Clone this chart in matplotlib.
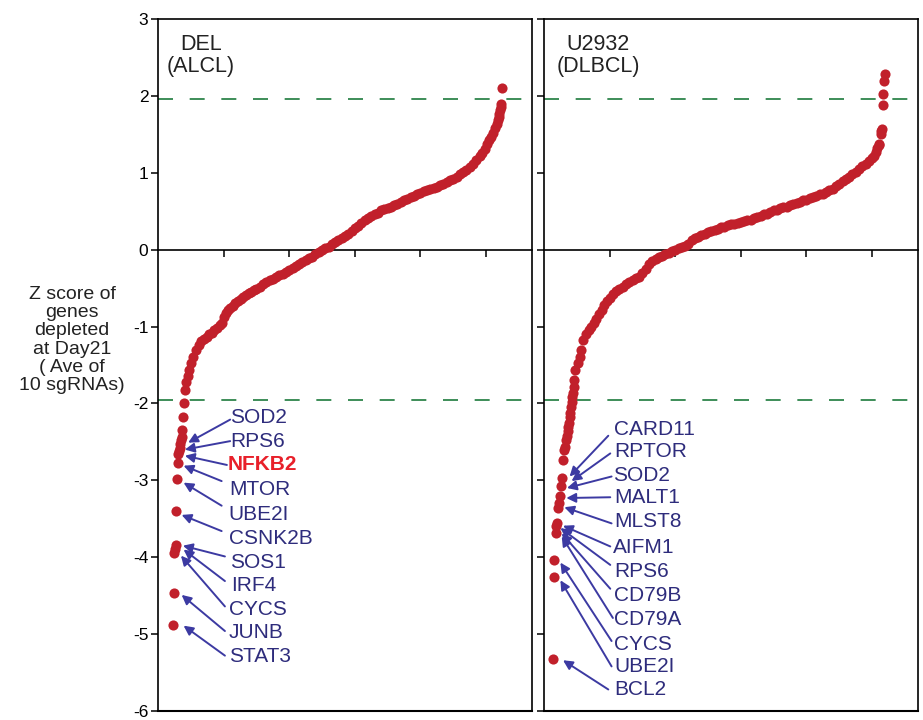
import matplotlib
matplotlib.use("Agg")
import matplotlib.pyplot as plt

plt.rcParams['font.family'] = ['Liberation Sans', 'DejaVu Sans']
plt.rcParams['axes.unicode_minus'] = False

### Data ###

# DEL (ALCL): gene rank vs Z score (sorted)
del_rank = [23, 24, 25, 26, 27, 28, 29, 30, 31, 32, 33, 34, 35, 36, 37, 38, 39,
            41, 43, 45, 47, 50, 54, 58, 62, 66, 70, 74, 78, 82, 86, 90, 94, 97,
            100, 103, 106, 110, 114, 118, 122, 126, 130, 134, 138, 142, 146, 150,
            155, 160, 165, 170, 175, 180, 185, 190, 195, 200, 205, 210, 215, 220,
            225, 230, 235, 240, 245, 250, 255, 260, 265, 270, 275, 280, 285, 290,
            295, 300, 305, 310, 315, 320, 325, 330, 335, 340, 345, 350, 355, 360,
            365, 370, 375, 380, 385, 390, 395, 400, 405, 410, 415, 420, 425, 430,
            435, 440, 445, 450, 455, 460, 465, 470, 475, 480, 485, 490, 494, 498,
            502, 505, 508, 511, 514, 516, 518, 519, 520, 521, 522, 523, 525]
del_z = [-4.88, -4.47, -3.95, -3.89, -3.84, -3.40, -2.98, -2.78, -2.66, -2.62,
         -2.58, -2.53, -2.48, -2.44, -2.34, -2.17, -2.00,
         -1.82, -1.72, -1.64, -1.57, -1.48, -1.39, -1.31, -1.24, -1.19, -1.16,
         -1.13, -1.10, -1.08, -1.05, -1.02, -0.98, -0.95,
         -0.88, -0.82, -0.79, -0.76, -0.73, -0.70, -0.67, -0.64, -0.62, -0.59,
         -0.57, -0.55, -0.53, -0.51,
         -0.48, -0.45, -0.42, -0.40, -0.38, -0.36, -0.33, -0.31, -0.29, -0.26,
         -0.24, -0.21, -0.19, -0.16,
         -0.14, -0.11, -0.09, -0.06, -0.03, -0.01, 0.02, 0.04, 0.07, 0.10, 0.12,
         0.15, 0.18, 0.21,
         0.24, 0.28, 0.31, 0.35, 0.38, 0.41, 0.44, 0.46, 0.48, 0.51, 0.53, 0.54,
         0.56, 0.58,
         0.60, 0.62, 0.64, 0.66, 0.68, 0.70, 0.72, 0.74, 0.76, 0.78, 0.79, 0.80,
         0.82, 0.84,
         0.86, 0.88, 0.90, 0.92, 0.95, 0.98, 1.01, 1.04, 1.08, 1.12, 1.17, 1.22,
         1.26, 1.31,
         1.37, 1.42, 1.47, 1.52, 1.58, 1.63, 1.68, 1.72, 1.76, 1.81, 1.86, 1.90, 2.10]

# U2932 (DLBCL)
u_rank = [14, 15, 16, 18, 19, 20, 22, 23, 24, 26, 28, 29, 31, 32, 34, 35, 36, 37,
          38, 39, 40, 41, 42, 43, 44, 45, 46, 48, 52, 55, 57, 60, 64, 68, 72, 76,
          80, 84, 88, 92, 96, 100, 105, 110, 115, 120, 125, 130, 135, 140, 145,
          150, 155, 160, 165, 170, 175, 180, 185, 190, 195, 200, 205, 210, 215,
          220, 225, 230, 235, 240, 245, 250, 255, 260, 265, 270, 275, 280, 285,
          290, 295, 300, 305, 310, 315, 320, 325, 330, 335, 340, 345, 350, 355,
          360, 365, 370, 375, 380, 385, 390, 395, 400, 405, 410, 415, 420, 425,
          430, 435, 440, 445, 450, 455, 460, 465, 470, 475, 480, 485, 490, 495,
          500, 503, 506, 508, 510, 511, 513, 514, 515, 516, 517, 518, 519]
u_z = [-5.33, -4.26, -4.04, -3.68, -3.60, -3.55, -3.36, -3.30, -3.21, -3.08,
       -2.97, -2.73, -2.60, -2.56, -2.47, -2.42, -2.36, -2.30, -2.25, -2.17,
       -2.12, -2.04, -1.98, -1.91, -1.86, -1.78, -1.70, -1.56, -1.48, -1.39,
       -1.30, -1.18, -1.10, -1.05, -1.01, -0.96,
       -0.90, -0.84, -0.78, -0.72, -0.67, -0.63, -0.58, -0.54, -0.51, -0.48,
       -0.45, -0.42, -0.40, -0.37, -0.35,
       -0.30, -0.25, -0.19, -0.15, -0.12, -0.10, -0.08, -0.06, -0.04, -0.02,
       0.00, 0.02, 0.03, 0.05,
       0.08, 0.12, 0.15, 0.17, 0.19, 0.21, 0.23, 0.24, 0.26, 0.27, 0.29, 0.30,
       0.32, 0.33,
       0.34, 0.35, 0.36, 0.37, 0.38, 0.39, 0.41, 0.42, 0.44, 0.46, 0.47, 0.49,
       0.51, 0.52,
       0.54, 0.55, 0.56, 0.58, 0.59, 0.61, 0.62, 0.64, 0.65, 0.67, 0.69, 0.70,
       0.72, 0.73,
       0.75, 0.77, 0.79, 0.83, 0.86, 0.89, 0.92, 0.95, 0.98, 1.01, 1.05, 1.09,
       1.12, 1.15,
       1.19, 1.22, 1.27, 1.32, 1.36, 1.38, 1.50, 1.54, 1.57, 1.88, 2.03, 2.20, 2.28]

# labelled genes: name, arrow tip (rank, z), arrow tail (rank, z), label position
del_genes = ["SOD2", "RPS6", "NFKB2", "MTOR", "UBE2I", "CSNK2B", "SOS1", "IRF4",
             "CYCS", "JUNB", "STAT3"]
del_tip_rank = [46, 41, 41, 39, 39, 36, 38, 39, 35, 36, 39]
del_tip_z = [-2.51, -2.60, -2.68, -2.81, -3.03, -3.45, -3.85, -3.90, -3.98, -4.49, -4.89]
del_tail_rank = [110, 110, 105, 97, 97, 97, 102, 102, 102, 102, 102]
del_tail_z = [-2.21, -2.49, -2.80, -3.01, -3.33, -3.66, -3.99, -4.31, -4.64, -4.96, -5.28]
del_text_rank = [110, 110, 106, 108, 108, 108, 110, 112, 108, 108, 108]
del_text_z = [-2.18, -2.50, -2.80, -3.12, -3.45, -3.75, -4.07, -4.37, -4.68, -4.98, -5.29]

u_genes = ["CARD11", "RPTOR", "SOD2", "MALT1", "MLST8", "AIFM1", "RPS6", "CD79B",
           "CD79A", "CYCS", "UBE2I", "BCL2"]
u_tip_rank = [39, 42, 35, 34, 31, 29, 25, 27, 27, 25, 25, 29]
u_tip_z = [-2.95, -3.01, -3.10, -3.23, -3.35, -3.59, -3.62, -3.69, -3.73, -4.07, -4.30, -5.34]
u_tail_rank = [98, 101, 103, 101, 103, 101, 101, 101, 105, 103, 103, 98]
u_tail_z = [-2.42, -2.65, -2.95, -3.22, -3.56, -3.86, -4.10, -4.41, -4.79, -5.09, -5.42, -5.72]
u_text_rank = [107, 107, 105, 107, 107, 105, 107, 107, 107, 107, 107, 107]
u_text_z = [-2.34, -2.63, -2.94, -3.22, -3.54, -3.88, -4.19, -4.50, -4.81, -5.14, -5.42, -5.72]

y_ticks = [3, 2, 1, 0, -1, -2, -3, -4, -5, -6]
x_ticks = [100, 200, 300, 400, 500]
cutoff = 1.96

DOT = '#c1202b'
GREEN = '#1c7a3c'
NAVY = '#2e2c7c'
ARROW = '#3c3aa2'

fig = plt.figure(figsize=(9.23, 7.2), dpi=100)
ax1 = fig.add_axes([158 / 923, 9 / 720, 374 / 923, 692 / 720])
ax2 = fig.add_axes([544 / 923, 9 / 720, 374 / 923, 692 / 720])

panels = [
    (ax1, del_rank, del_z, "DEL\n(ALCL)", 0.115,
     del_genes, del_tip_rank, del_tip_z, del_tail_rank, del_tail_z, del_text_rank, del_text_z),
    (ax2, u_rank, u_z, "U2932\n(DLBCL)", 0.145,
     u_genes, u_tip_rank, u_tip_z, u_tail_rank, u_tail_z, u_text_rank, u_text_z),
]

for (ax, rank, z, title, tx, genes, tip_r, tip_z, tail_r, tail_z, txt_r, txt_z) in panels:
    ax.set_xlim(0, 570)
    ax.set_ylim(-6, 3)
    for sp in ax.spines.values():
        sp.set_linewidth(1.2)
    # x axis on the zero line, box bottom drawn separately
    ax.spines['bottom'].set_position(('data', 0))
    ax.axhline(-6, color='black', lw=1.5, clip_on=False, zorder=5)
    ax.set_xticks(x_ticks)
    ax.set_xticklabels([])
    ax.set_yticks(y_ticks)
    ax.tick_params(axis='both', direction='out', length=5, width=1.1, labelsize=12.5, pad=2)

    ax.axhline(cutoff, color=GREEN, lw=1.2, linestyle=(0, (9, 10)), zorder=1)
    ax.axhline(-cutoff, color=GREEN, lw=1.2, linestyle=(0, (9, 10)), zorder=1)

    ax.plot(rank, z, 'o', color=DOT, markersize=7.3, markeredgewidth=0, zorder=3)

    ax.text(tx, 0.978, title, transform=ax.transAxes, ha='center', va='top',
            fontsize=15.5, color='#222222', linespacing=1.05)

    for i, g in enumerate(genes):
        ax.annotate('', xy=(tip_r[i], tip_z[i]), xytext=(tail_r[i], tail_z[i]),
                    arrowprops=dict(arrowstyle='-|>', color=ARROW, lw=1.4,
                                    mutation_scale=14, shrinkA=0, shrinkB=0))
        if g == "NFKB2":
            ax.text(txt_r[i], txt_z[i], g, ha='left', va='center', fontsize=15,
                    color='#e8202a', fontweight='bold')
        else:
            ax.text(txt_r[i], txt_z[i], g, ha='left', va='center', fontsize=15,
                    color=NAVY)

ax1.set_yticklabels([str(t) for t in y_ticks])
ax2.set_yticklabels([])

fig.text(72 / 923, 1 - 340 / 720,
         "Z score of\ngenes\ndepleted\nat Day21\n( Ave of\n10 sgRNAs)",
         ha='center', va='center', fontsize=14, color='#222222', linespacing=1.08)

plt.savefig("out.png", dpi=100)
